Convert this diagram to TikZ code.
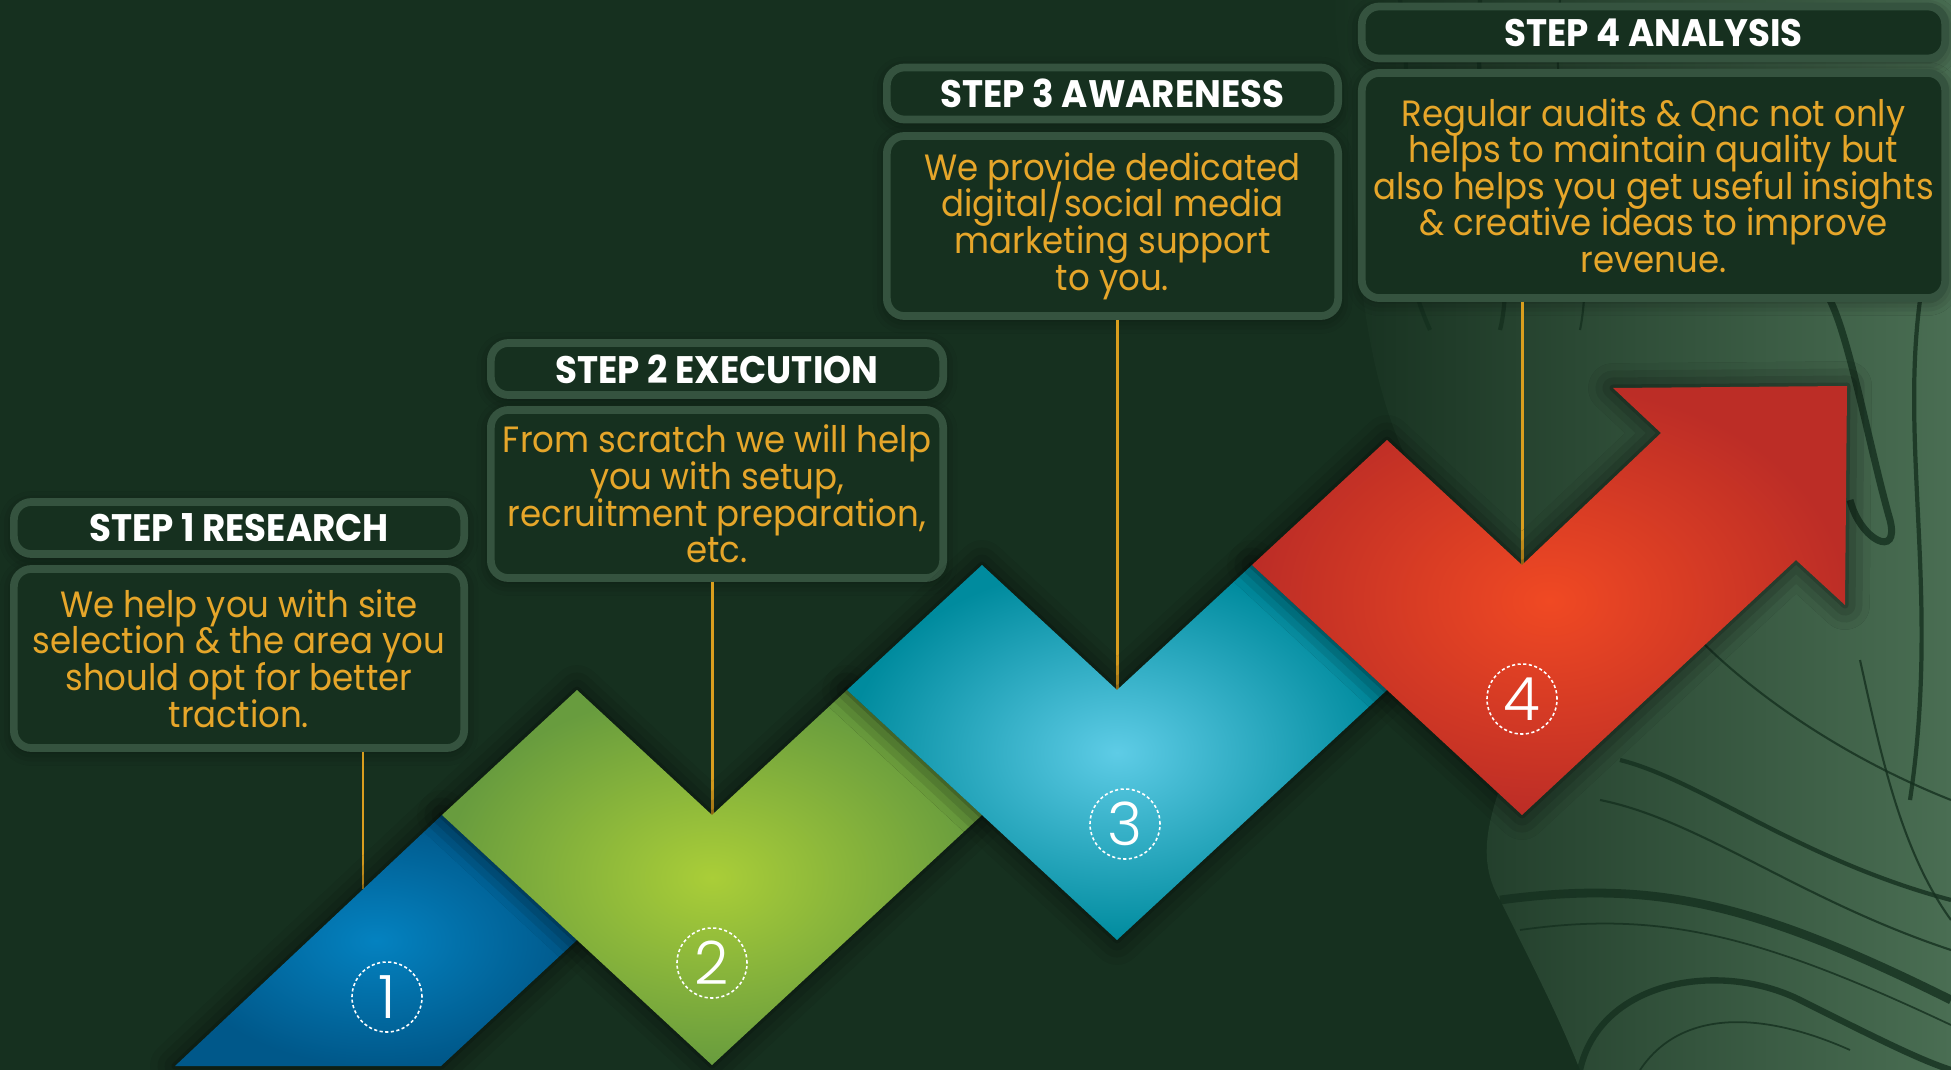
\documentclass[tikz,border=0pt]{standalone}
\usepackage{fontspec}
\setmainfont[FakeStretch=0.93]{Poppins}
\newfontfamily\numfont{Poppins Light}
\usetikzlibrary{shadows.blur}

\definecolor{bgdark}{HTML}{16301F}
\definecolor{boxline}{HTML}{35533F}
\definecolor{gold}{HTML}{E6A62A}
\definecolor{wirecol}{HTML}{D99E1E}
\definecolor{marblehi}{HTML}{4A6E53}
\definecolor{veins}{HTML}{15301F}

\tikzset{
  titlebox/.style = {draw = boxline, line width = 2.2pt, fill = bgdark, rounded corners = 5pt,
    minimum height = 0.52cm, inner sep = 0pt, text = white,
    font = \bfseries\fontsize{10.9}{12}\selectfont,
    blur shadow = {shadow xshift = 0pt, shadow yshift = -1pt, shadow blur radius = 4pt, shadow opacity = 45}},
  textbox/.style = {titlebox, text = gold, align = center,
    font = {\fontsize{10.4}{10.4}\selectfont\lineskiplimit -10pt\relax}},
  wire/.style = {wirecol, line width = 0.85pt},
  vein/.style = {veins, line width = 1.2pt, opacity = 0.8},
  piece/.style = {blur shadow = {shadow xshift = 0pt, shadow yshift = 0pt, shadow blur radius = 7pt, shadow opacity = 70}},
  stepnum/.style = {circle, draw = white, line width = 0.45pt, dash pattern = on 0.9pt off 0.7pt,
    minimum size = 0.70cm, inner sep = 0pt, text = white, font = \numfont\fontsize{17}{17}\selectfont}
}

\begin{document}
\begin{tikzpicture}[x = 0.01cm, y = -0.01cm]
\useasboundingbox (0,0) rectangle (1951,1070);
\fill [bgdark] (0,0) rectangle (1951,1070);

% marbled corner
\shade [left color = bgdark, right color = marblehi]
  (1330,0) .. controls (1370,200) and (1330,420) .. (1480,560)
  .. controls (1610,690) and (1440,800) .. (1500,900)
  .. controls (1540,980) and (1560,1020) .. (1580,1070)
  -- (1951,1070) -- (1951,0) -- cycle;
\draw [vein] (1400,0) .. controls (1420,120) and (1380,220) .. (1430,330);
\draw [vein] (1480,0) .. controls (1470,150) and (1520,250) .. (1500,330);
\draw [vein, line width = 0.6pt] (1560,0) .. controls (1545,120) and (1600,230) .. (1580,330);
\draw [vein, line width = 2pt] (1830,300) .. controls (1850,340) and (1870,450) .. (1890,520)
  .. controls (1900,560) and (1860,540) .. (1850,500);
\draw [vein] (1920,300) .. controls (1900,450) and (1940,600) .. (1910,800);
\draw [vein, line width = 0.6pt] (1700,640) .. controls (1760,700) and (1850,760) .. (1951,800);
\draw [vein] (1620,760) .. controls (1700,780) and (1800,860) .. (1951,900);
\draw [vein, line width = 0.6pt] (1600,800) .. controls (1700,820) and (1800,900) .. (1951,950);
\draw [vein, line width = 2.5pt] (1500,900) .. controls (1650,880) and (1750,900) .. (1951,1000);
\draw [vein, line width = 0.5pt] (1520,930) .. controls (1660,910) and (1760,935) .. (1951,1025);
\draw [vein, line width = 1.8pt] (1580,1070) .. controls (1600,980) and (1720,960) .. (1800,1000)
  .. controls (1880,1040) and (1920,1060) .. (1951,1070);
\draw [vein, line width = 0.6pt] (1860,660) .. controls (1880,750) and (1900,850) .. (1951,920);
\draw [vein, line width = 0.5pt] (1640,1070) .. controls (1680,1010) and (1760,1010) .. (1850,1050);

% text boxes
\node [titlebox, minimum width = 4.50cm] (t1) at (239,528) {STEP 1 RESEARCH};
\node [textbox, minimum width = 4.50cm, minimum height = 1.79cm] (b1) at (239,658.5)
  {We help you with site\\ selection \& the area you\\ should opt for better\\ traction.};
\node [titlebox, minimum width = 4.52cm] (t2) at (717,369) {STEP 2 EXECUTION};
\node [textbox, minimum width = 4.52cm, minimum height = 1.68cm] (b2) at (717,494)
  {From scratch we will help\\ you with setup,\\ recruitment preparation,\\ etc.};
\node [titlebox, minimum width = 4.51cm] (t3) at (1112.5,93.5) {STEP 3 AWARENESS};
\node [textbox, minimum width = 4.51cm, minimum height = 1.80cm] (b3) at (1112.5,226)
  {We provide dedicated\\ digital/social media\\ marketing support\\ to you.};
\node [titlebox, minimum width = 5.83cm] (t4) at (1653.5,32.5) {STEP 4 ANALYSIS};
\node [textbox, minimum width = 5.83cm, minimum height = 2.25cm] (b4) at (1653.5,185.5)
  {Regular audits \& Qnc not only\\ helps to maintain quality but\\ also helps you get useful insights\\ \& creative ideas to improve\\ revenue.};

% leader lines
\coordinate (n1) at (363,889);
\coordinate (n2) at (712,815);
\coordinate (n3) at (1117,690);
\coordinate (n4) at (1522,565);
\foreach \i in {1,2,3,4}
\draw [wire] (b\i.south -| n\i) -- (n\i);

% zigzag pieces
\shade [piece, inner color = {rgb,255:red,4;green,130;blue,192}, outer color = {rgb,255:red,0;green,88;blue,138}]
  (175,1066) -- (442,815) -- (577,940) -- (441,1066) -- cycle;
\shade [piece, inner color = {rgb,255:red,170;green,206;blue,56}, outer color = {rgb,255:red,104;green,156;blue,62}]
  (n2) -- ++(135,-125) -- ++(135,125) -- ++(-270,250) -- ++(-270,-250) -- ++(135,-125) -- cycle;
\shade [piece, inner color = {rgb,255:red,94;green,204;blue,230}, outer color = {rgb,255:red,0;green,139;blue,158}]
  (n3) -- ++(135,-125) -- ++(135,125) -- ++(-270,250) -- ++(-270,-250) -- ++(135,-125) -- cycle;
\shade [piece, inner color = {rgb,255:red,240;green,73;blue,35}, outer color = {rgb,255:red,188;green,45;blue,38}]
  (n4) -- (1661,433) -- (1613,388) -- (1847,386) -- (1845,605) -- (1796,560)
  -- (1522,815) -- (1252,565) -- (1387,440) -- cycle;

% step numbers
\node [stepnum] (s1) at (387,997) {1};
\node [stepnum] (s2) at (712,963) {2};
\node [stepnum] (s3) at (1125,824) {3};
\node [stepnum] (s4) at (1522,699) {4};
\end{tikzpicture}
\end{document}
